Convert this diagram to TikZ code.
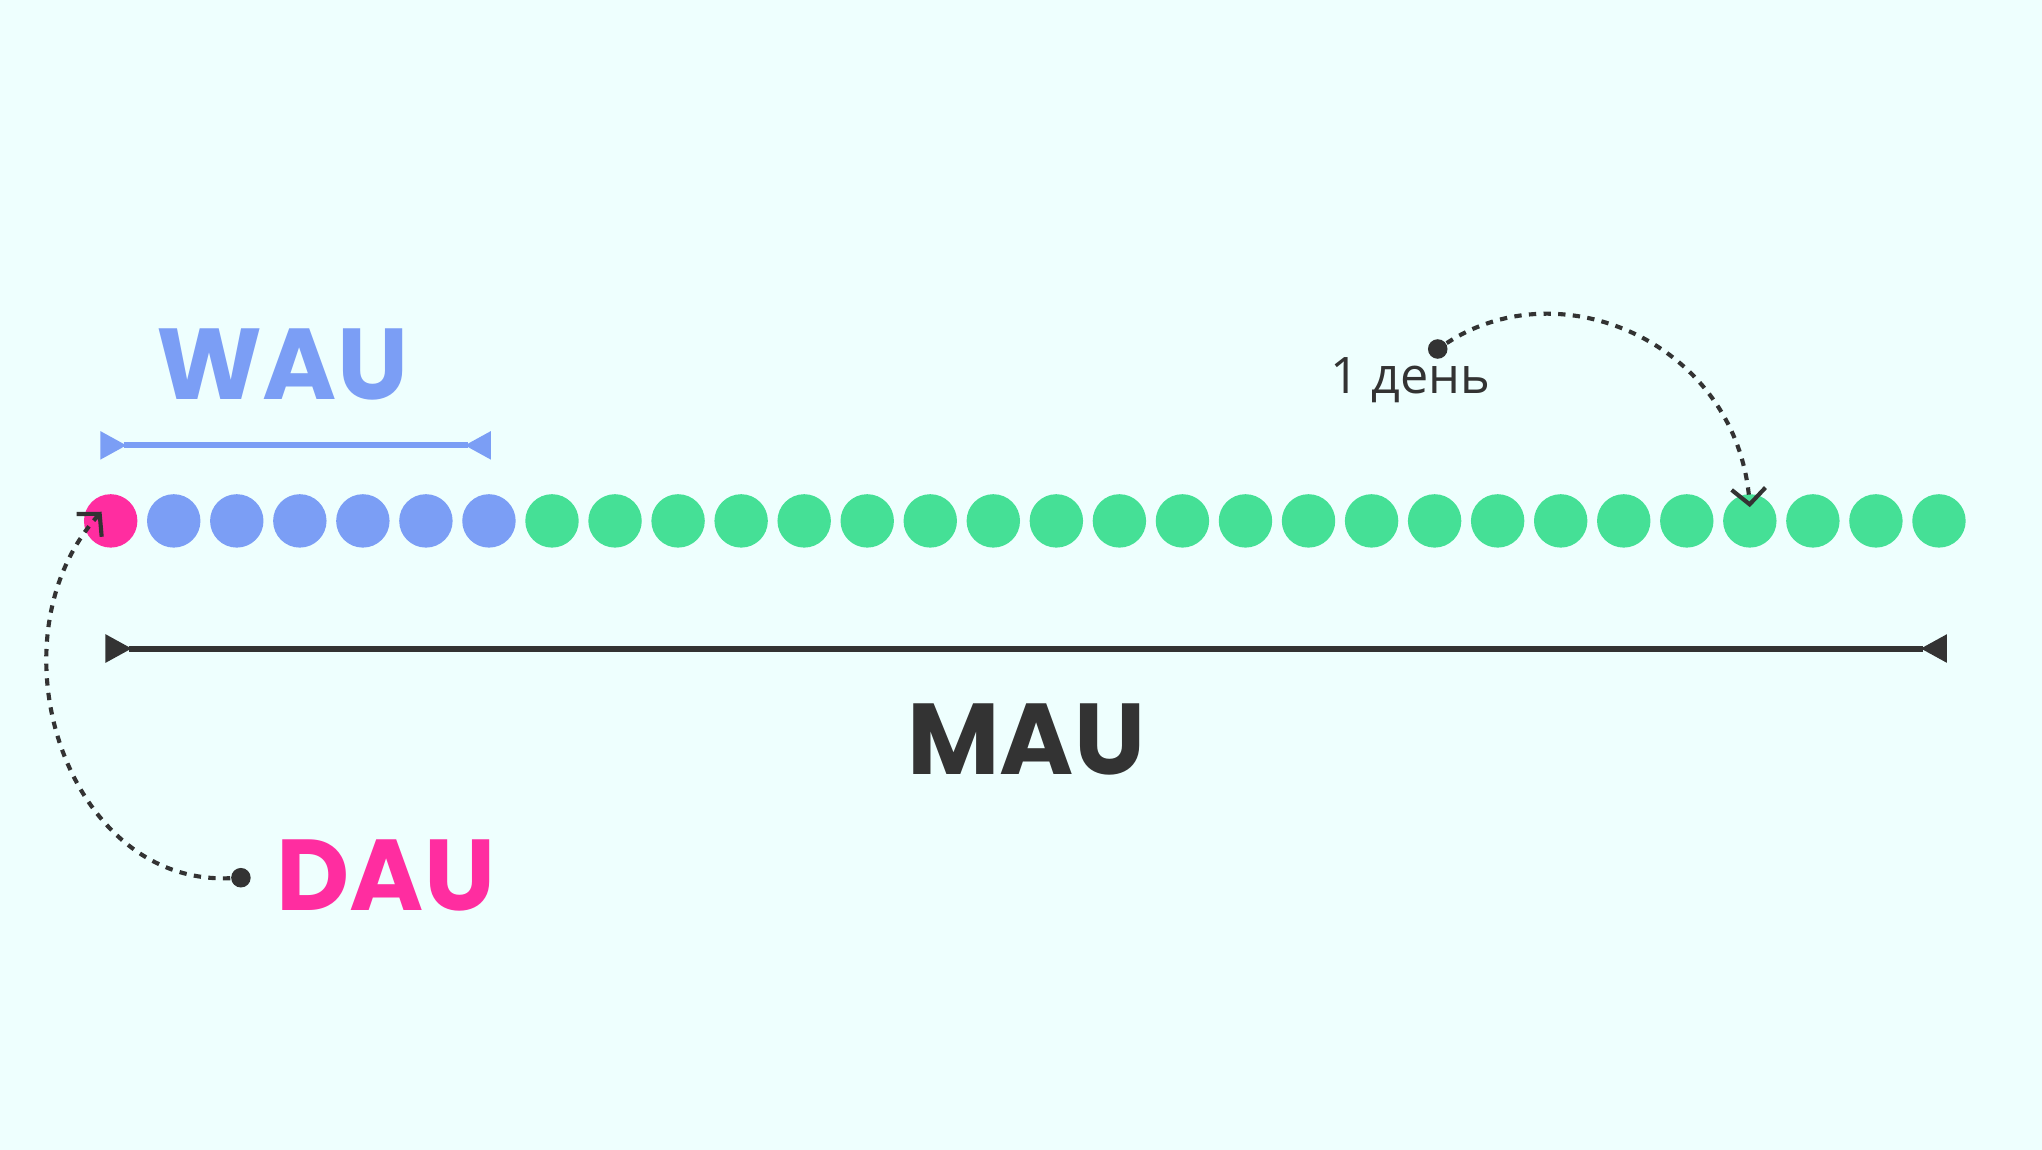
\documentclass[tikz,border=0pt]{standalone}
\usepackage{fontspec}
\setmainfont{Poppins}
\newfontfamily\cyrfont{Open Sans}
\usetikzlibrary{arrows.meta}
\definecolor{bgc}{HTML}{EEFFFE}
\definecolor{pinkc}{HTML}{FF2DA0}
\definecolor{bluec}{HTML}{7B9EF5}
\definecolor{greenc}{HTML}{45E096}
\definecolor{darkc}{HTML}{333333}
\tikzset{
  day/.style={circle, fill=#1, minimum size=0.41cm, inner sep=0pt},
  pin/.style={circle, fill=darkc, minimum size=0.15cm, inner sep=0pt},
  link/.style={darkc, line width=0.9pt, dash pattern=on 1.6pt off 1.6pt, -{Straight Barb[length=1.2mm, width=2.6mm, line width=0.9pt]}},
  label/.style={font=\fontsize{22}{24}\selectfont\bfseries}
}
\begin{document}
\begin{tikzpicture}[x=0.01cm, y=-0.01cm]
\fill[bgc] (0,0) rectangle (1568,883);
\useasboundingbox (0,0) rectangle (1568,883);
% days
\foreach \i in {0,...,29} {
  \ifnum\i=0 \def\col{pinkc}\else\ifnum\i<7 \def\col{bluec}\else\def\col{greenc}\fi\fi
  \node[day=\col] (c\i) at (85+48.41*\i, 400) {};
}
% WAU bar
\draw[bluec, line width=1.3pt] (95,342) -- (359,342);
\fill[bluec] (77,331) -- (97,342) -- (77,353) -- cycle;
\fill[bluec] (377,331) -- (357,342) -- (377,353) -- cycle;
\node[label, text=bluec] (wau) at (217,280) {WAU};
% MAU bar
\draw[darkc, line width=1.3pt] (99,498) -- (1477,498);
\fill[darkc] (81,487) -- (101,498) -- (81,509) -- cycle;
\fill[darkc] (1495,487) -- (1475,498) -- (1495,509) -- cycle;
\node[label, text=darkc] (mau) at (788,568) {MAU};
% DAU
\node[label, text=pinkc, anchor=west] (dau) at (200,672) {DAU};
\node[pin] (p1) at (185,674) {};
\draw[link] (p1) .. controls (50,680) and (-10,490) .. ([xshift=-2,yshift=2]c0.center);
% one day
\node[pin] (p2) at (1104,268) {};
\node[text=darkc, font=\cyrfont\fontsize{11}{12}\selectfont] (day) at (1083,292) {1 день};
\draw[link] (p2) .. controls (1200,205) and (1335,265) .. ([yshift=3]c26.center);
\end{tikzpicture}
\end{document}
